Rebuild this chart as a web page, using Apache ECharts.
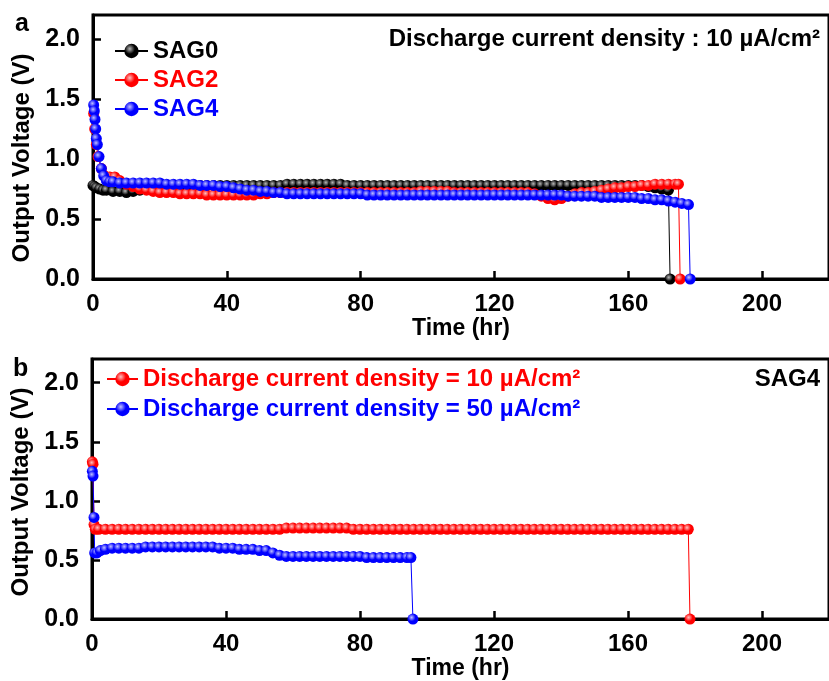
<!DOCTYPE html>
<html>
<head>
<meta charset="utf-8">
<script src="https://cdn.jsdelivr.net/npm/echarts@6/dist/echarts.min.js"></script>
<style>
  html, body { margin: 0; padding: 0; background: #fff; }
  #chart { width: 829px; height: 681px; }
</style>
</head>
<body>
<div id="chart"></div>
<script>
// ---------- data: time (hr), output voltage (V) ----------
const xTicks = [0, 40, 80, 120, 160, 200];
const yTicks = ['0.0', '0.5', '1.0', '1.5', '2.0'];

// Panel a: three samples at 10 µA/cm²
const sag0 = [
  [0,0.78],[0.5,0.77],[1,0.76],[2,0.75],[3,0.74],[4,0.74],[6,0.73],[8,0.73],[10,0.72],[12,0.73],
  [14,0.74],[16,0.75],[18,0.76],[20,0.77],[22,0.77],[24,0.78],[26,0.78],[28,0.78],[30,0.78],[32,0.78],
  [34,0.78],[36,0.78],[38,0.78],[40,0.78],[42,0.78],[44,0.78],[46,0.78],[48,0.78],[50,0.78],[52,0.78],
  [54,0.78],[56,0.78],[58,0.79],[60,0.79],[62,0.79],[64,0.79],[66,0.79],[68,0.79],[70,0.79],[72,0.79],
  [74,0.79],[76,0.78],[78,0.78],[80,0.78],[82,0.78],[84,0.78],[86,0.78],[88,0.78],[90,0.78],[92,0.78],
  [94,0.78],[96,0.78],[98,0.78],[100,0.78],[102,0.78],[104,0.78],[106,0.78],[108,0.78],[110,0.78],[112,0.78],
  [114,0.78],[116,0.78],[118,0.78],[120,0.78],[122,0.78],[124,0.78],[126,0.78],[128,0.78],[130,0.78],[132,0.78],
  [134,0.78],[136,0.78],[138,0.78],[140,0.78],[142,0.78],[144,0.78],[146,0.78],[148,0.78],[150,0.78],[152,0.78],
  [154,0.78],[156,0.78],[158,0.78],[160,0.78],[162,0.78],[164,0.78],[166,0.77],[168,0.76],[170,0.75],[172,0.74],
  [172.5,0]
];
const sag2 = [
  [0.2,1.38],[0.5,1.25],[1,1.12],[1.5,1.02],[2.5,0.92],[3.5,0.86],[5,0.85],[6.5,0.85],[8,0.82],[10,0.79],
  [12,0.77],[14,0.75],[16,0.74],[18,0.73],[20,0.72],[22,0.72],[24,0.72],[26,0.71],[28,0.71],[30,0.71],
  [32,0.71],[34,0.70],[36,0.70],[38,0.70],[40,0.70],[42,0.70],[44,0.70],[46,0.70],[48,0.70],[50,0.71],
  [52,0.71],[54,0.72],[56,0.72],[58,0.72],[60,0.72],[62,0.72],[64,0.72],[66,0.72],[68,0.72],[70,0.72],
  [72,0.72],[74,0.72],[76,0.72],[78,0.72],[80,0.72],[82,0.72],[84,0.72],[86,0.72],[88,0.72],[90,0.72],
  [92,0.72],[94,0.72],[96,0.72],[98,0.73],[100,0.73],[102,0.73],[104,0.73],[106,0.73],[108,0.72],[110,0.72],
  [112,0.72],[114,0.72],[116,0.72],[118,0.72],[120,0.72],[122,0.72],[124,0.72],[126,0.72],[128,0.72],[130,0.72],
  [132,0.71],[134,0.69],[136,0.67],[138,0.66],[140,0.67],[142,0.69],[144,0.71],[146,0.72],[148,0.72],[150,0.73],
  [152,0.74],[154,0.75],[156,0.76],[158,0.76],[160,0.77],[162,0.77],[164,0.78],[166,0.78],[168,0.79],[170,0.79],
  [172,0.79],[174,0.79],[175,0.79],[175.5,0]
];
const sag4 = [
  [0.2,1.45],[0.4,1.40],[0.6,1.33],[0.8,1.25],[1,1.17],[1.3,1.12],[1.8,1.02],[2.5,0.92],[3.2,0.86],[4,0.82],
  [5,0.81],[6,0.81],[8,0.80],[10,0.80],[12,0.80],[14,0.80],[16,0.80],[18,0.80],[20,0.80],[22,0.79],
  [24,0.79],[26,0.79],[28,0.79],[30,0.79],[32,0.78],[34,0.78],[36,0.78],[38,0.77],[40,0.77],[42,0.76],
  [44,0.75],[46,0.74],[48,0.74],[50,0.73],[52,0.73],[54,0.72],[56,0.72],[58,0.71],[60,0.71],[62,0.71],
  [64,0.71],[66,0.71],[68,0.71],[70,0.71],[72,0.71],[74,0.71],[76,0.71],[78,0.71],[80,0.71],[82,0.70],
  [84,0.70],[86,0.70],[88,0.70],[90,0.70],[92,0.70],[94,0.70],[96,0.70],[98,0.70],[100,0.70],[102,0.70],
  [104,0.70],[106,0.70],[108,0.70],[110,0.70],[112,0.70],[114,0.70],[116,0.70],[118,0.70],[120,0.70],[122,0.70],
  [124,0.70],[126,0.70],[128,0.70],[130,0.70],[132,0.70],[134,0.70],[136,0.70],[138,0.70],[140,0.70],[142,0.69],
  [144,0.69],[146,0.69],[148,0.69],[150,0.69],[152,0.68],[154,0.68],[156,0.68],[158,0.68],[160,0.68],[162,0.68],
  [164,0.67],[166,0.67],[168,0.66],[170,0.66],[172,0.65],[174,0.64],[176,0.63],[178,0.62],[178.5,0]
];

// Panel b: SAG4 at two discharge current densities
const sag4At10 = [
  [0.1,1.33],[0.3,1.31],[0.6,0.80],[1,0.76],[2,0.76],[4,0.76],[6,0.76],[8,0.76],[10,0.76],[12,0.76],
  [14,0.76],[16,0.76],[18,0.76],[20,0.76],[22,0.76],[24,0.76],[26,0.76],[28,0.76],[30,0.76],[32,0.76],
  [34,0.76],[36,0.76],[38,0.76],[40,0.76],[42,0.76],[44,0.76],[46,0.76],[48,0.76],[50,0.76],[52,0.76],
  [54,0.76],[56,0.76],[58,0.77],[60,0.77],[62,0.77],[64,0.77],[66,0.77],[68,0.77],[70,0.77],[72,0.77],
  [74,0.77],[76,0.77],[78,0.76],[80,0.76],[82,0.76],[84,0.76],[86,0.76],[88,0.76],[90,0.76],[92,0.76],
  [94,0.76],[96,0.76],[98,0.76],[100,0.76],[102,0.76],[104,0.76],[106,0.76],[108,0.76],[110,0.76],[112,0.76],
  [114,0.76],[116,0.76],[118,0.76],[120,0.76],[122,0.76],[124,0.76],[126,0.76],[128,0.76],[130,0.76],[132,0.76],
  [134,0.76],[136,0.76],[138,0.76],[140,0.76],[142,0.76],[144,0.76],[146,0.76],[148,0.76],[150,0.76],[152,0.76],
  [154,0.76],[156,0.76],[158,0.76],[160,0.76],[162,0.76],[164,0.76],[166,0.76],[168,0.76],[170,0.76],[172,0.76],
  [174,0.76],[176,0.76],[178,0.76],[178.5,0]
];
const sag4At50 = [
  [0.1,1.25],[0.3,1.21],[0.6,0.86],[0.8,0.56],[1.5,0.56],[2.5,0.58],[4,0.59],[6,0.60],[8,0.60],[10,0.60],
  [12,0.60],[14,0.60],[16,0.61],[18,0.61],[20,0.61],[22,0.61],[24,0.61],[26,0.61],[28,0.61],[30,0.61],
  [32,0.61],[34,0.61],[36,0.61],[38,0.60],[40,0.60],[42,0.60],[44,0.59],[46,0.59],[48,0.59],[50,0.58],
  [52,0.58],[54,0.56],[56,0.54],[58,0.53],[60,0.53],[62,0.53],[64,0.53],[66,0.53],[68,0.53],[70,0.53],
  [72,0.53],[74,0.53],[76,0.53],[78,0.53],[80,0.53],[82,0.52],[84,0.52],[86,0.52],[88,0.52],[90,0.52],
  [92,0.52],[94,0.52],[95.2,0.52],[95.8,0]
];

const nameA = ['SAG0', 'SAG2', 'SAG4'];
const nameB = ['Discharge current density = 10 µA/cm²', 'Discharge current density = 50 µA/cm²'];

// ---------- styling ----------
const FONT = 'Liberation Sans, Arial, sans-serif';
const BLACK = '#000000', RED = '#ff0000', BLUE = '#0000ff';

function ball(base, light) {
  return {
    type: 'radial', x: 0.38, y: 0.35, r: 0.65,
    colorStops: [{ offset: 0, color: light }, { offset: 0.55, color: base }, { offset: 1, color: base }]
  };
}

function lineSeries(name, data, base, light, idx) {
  return {
    type: 'line', name: name, data: data,
    xAxisIndex: idx, yAxisIndex: idx,
    symbol: 'circle', symbolSize: 11, showSymbol: true,
    lineStyle: { color: base, width: 1 },
    itemStyle: { color: ball(base, light), borderWidth: 0 },
    emphasis: { disabled: true },
    animation: false
  };
}

function xAxisCfg(idx) {
  return {
    type: 'value', gridIndex: idx, min: 0, max: 220, interval: 40,
    name: 'Time (hr)', nameLocation: 'middle', nameGap: 37,
    nameTextStyle: { fontFamily: FONT, fontWeight: 'bold', fontSize: 23, color: '#000' },
    axisLine: { show: true, lineStyle: { color: '#000', width: 3 } },
    axisTick: { show: true, inside: true, length: 8, lineStyle: { color: '#000', width: 2.5 } },
    axisLabel: {
      show: true, margin: 13, showMaxLabel: false,
      fontFamily: FONT, fontWeight: 'bold', fontSize: 24, color: '#000',
      formatter: v => (xTicks.indexOf(v) >= 0 ? String(v) : '')
    },
    splitLine: { show: false }
  };
}

function yAxisCfg(idx, namePad) {
  return {
    type: 'value', gridIndex: idx, min: 0, max: 2.2, interval: 0.5,
    name: 'Output Voltage (V)', nameLocation: 'middle', nameGap: 58,
    nameTextStyle: { fontFamily: FONT, fontWeight: 'bold', fontSize: 24, color: '#000', padding: namePad },
    axisLine: { show: true, lineStyle: { color: '#000', width: 3 } },
    axisTick: { show: true, inside: true, length: 8, lineStyle: { color: '#000', width: 2.5 } },
    axisLabel: {
      show: true, margin: 13, showMaxLabel: false,
      fontFamily: FONT, fontWeight: 'bold', fontSize: 25, color: '#000',
      formatter: v => { const s = v.toFixed(1); return yTicks.indexOf(s) >= 0 ? s : ''; }
    },
    splitLine: { show: false }
  };
}

const chart = echarts.init(document.getElementById('chart'), null, { renderer: 'canvas' });

chart.setOption({
  backgroundColor: '#ffffff',
  animation: false,
  grid: [
    { left: 93, top: 15, width: 741, height: 264, show: true, borderColor: '#000', borderWidth: 3, backgroundColor: 'transparent' },
    { left: 92, top: 359, width: 741, height: 264, show: true, borderColor: '#000', borderWidth: 3, backgroundColor: 'transparent' }
  ],
  xAxis: [xAxisCfg(0), xAxisCfg(1)],
  yAxis: [yAxisCfg(0, [0, 22, 0, 0]), yAxisCfg(1, [0, 6, 0, 0])],
  legend: [
    {
      orient: 'vertical', left: 109, top: 34, itemWidth: 33, itemHeight: 18, itemGap: 5,
      selectedMode: false,
      textStyle: { fontFamily: FONT, fontWeight: 'bold', fontSize: 24 },
      data: [
        { name: nameA[0], textStyle: { color: BLACK } },
        { name: nameA[1], textStyle: { color: RED } },
        { name: nameA[2], textStyle: { color: BLUE } }
      ]
    },
    {
      orient: 'vertical', left: 101, top: 362, itemWidth: 31, itemHeight: 18, itemGap: 6,
      selectedMode: false,
      textStyle: { fontFamily: FONT, fontWeight: 'bold', fontSize: 24 },
      data: [
        { name: nameB[0], textStyle: { color: RED } },
        { name: nameB[1], textStyle: { color: BLUE } }
      ]
    }
  ],
  graphic: [
    { type: 'text', left: 15, top: 12, style: { text: 'a', font: 'bold 25px ' + FONT, fill: '#000' } },
    { type: 'text', left: 13, top: 357, style: { text: 'b', font: 'bold 25px ' + FONT, fill: '#000' } },
    { type: 'text', right: 9, top: 27, style: { text: 'Discharge current density : 10 µA/cm²', font: 'bold 24px ' + FONT, fill: '#000' } },
    { type: 'text', right: 9, top: 367, style: { text: 'SAG4', font: 'bold 24px ' + FONT, fill: '#000' } }
  ],
  series: [
    lineSeries(nameA[0], sag0, BLACK, '#b8b8b8', 0),
    lineSeries(nameA[1], sag2, RED, '#ffc0c0', 0),
    lineSeries(nameA[2], sag4, BLUE, '#c0c0ff', 0),
    lineSeries(nameB[0], sag4At10, RED, '#ffc0c0', 1),
    lineSeries(nameB[1], sag4At50, BLUE, '#c0c0ff', 1)
  ]
});
</script>
</body>
</html>
